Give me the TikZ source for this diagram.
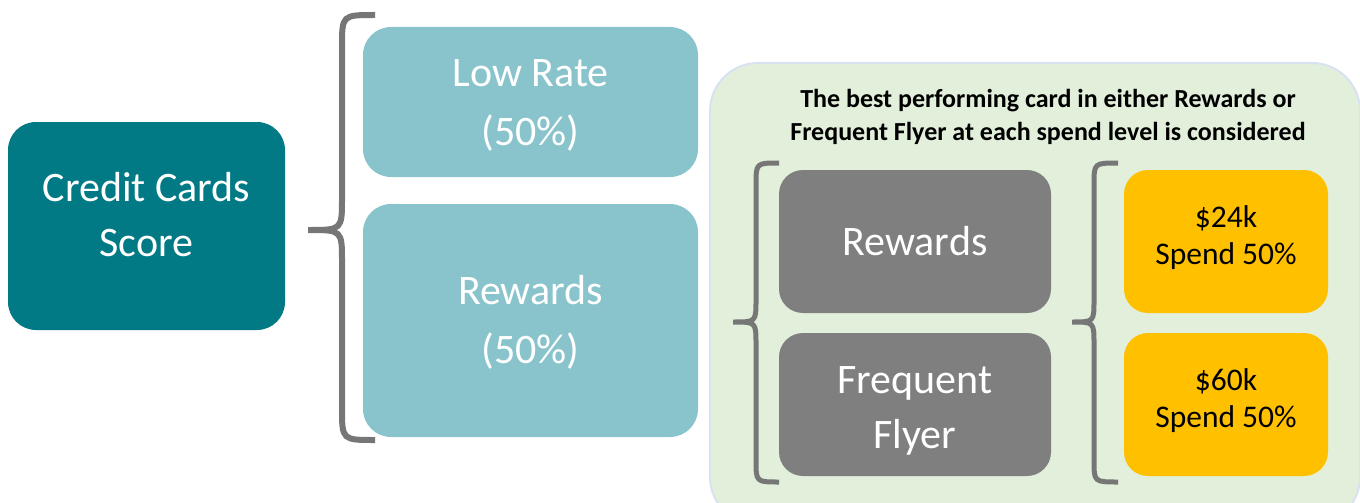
\documentclass[tikz,border=0pt]{standalone}
\usepackage{fontspec}
\setmainfont{Carlito}
\definecolor{scoreteal}{HTML}{027A85}
\definecolor{lightteal}{HTML}{89C4CC}
\definecolor{cardgray}{HTML}{7F7F7F}
\definecolor{spendgold}{HTML}{FFC000}
\definecolor{panelgreen}{HTML}{E2EFDA}
\definecolor{panelline}{HTML}{D9E2F1}
\definecolor{bracegray}{HTML}{767676}
\begin{document}
\begin{tikzpicture}[x=1pt, y=-1pt]
\tikzstyle{card}=[rounded corners=28pt, inner sep=0pt]
\tikzstyle{cardtext}=[align=center, inner sep=0pt, text=white, font=\fontsize{42}{57}\selectfont]
\tikzstyle{score}=[card, fill=scoreteal, minimum width=277pt, minimum height=208pt]
\tikzstyle{weight}=[card, fill=lightteal, minimum width=335pt]
\tikzstyle{category}=[card, fill=cardgray, minimum width=272pt, minimum height=143pt, rounded corners=24pt]
\tikzstyle{spend}=[card, fill=spendgold, minimum width=204pt, minimum height=143pt, rounded corners=24pt]
\tikzstyle{spendtext}=[cardtext, text=black, font=\fontsize{31.5}{37}\selectfont]
  \useasboundingbox (0,0) rectangle (1360,503);
  \clip (0,0) rectangle (1360,503);
  \draw[fill=panelgreen, draw=panelline, line width=2pt, rounded corners=48pt] (710,63) rectangle (1360,525);

  \node[score] (score) at (146.5,226) {};
  \node[weight, minimum height=150pt] (lowrate) at (530.5,102) {};
  \node[weight, minimum height=233pt] (rewardsweight) at (530.5,320.5) {};
  \node[category] (rewards) at (915,241.5) {};
  \node[category] (flyer) at (915,404.5) {};
  \node[spend] (spend24) at (1226,241.5) {};
  \node[spend] (spend60) at (1226,404.5) {};

  \node[cardtext, font=\fontsize{42}{55}\selectfont] (scoretext) at ([yshift=11pt]score.center) {Credit Cards\\Score};
  \node[cardtext, font=\fontsize{42}{59}\selectfont] (lowratetext) at ([yshift=-3pt]lowrate.center) {Low Rate\\(50\%)};
  \node[cardtext, font=\fontsize{42}{59}\selectfont] (rewardsweighttext) at ([yshift=-2pt]rewardsweight.center) {Rewards\\(50\%)};
  \node[cardtext] (rewardstext) at (rewards.center) {Rewards};
  \node[cardtext, font=\fontsize{42}{55}\selectfont] (flyertext) at ([yshift=-6pt]flyer.center) {Frequent\\Flyer};
  \node[spendtext] (spend24text) at ([yshift=4pt]spend24.center) {\$24k\\Spend 50\%};
  \node[spendtext] (spend60text) at ([yshift=4pt]spend60.center) {\$60k\\Spend 50\%};
  \node[font=\bfseries\fontsize{26}{33}\selectfont, align=center] (note) at (1048,117)
    {The best performing card in either Rewards or\\Frequent Flyer at each spend level is considered};

  \foreach \ex/\vx/\tx/\ya/\yb/\yc/\rr/\lw in {375/342/308/15/230/440/32/6,
                                             779/756/733/163/322/482/22/5,
                                             1118/1094/1072/163/322/482/22/5}
    \draw[draw=bracegray, line width=\lw pt]
      (\ex,\ya) .. controls (\vx,\ya) .. (\vx,\ya+\rr) -- (\vx,\yb-\rr)
      .. controls (\vx,\yb) .. (\tx,\yb) .. controls (\vx,\yb) .. (\vx,\yb+\rr)
      -- (\vx,\yc-\rr) .. controls (\vx,\yc) .. (\ex,\yc);
\end{tikzpicture}
\end{document}
